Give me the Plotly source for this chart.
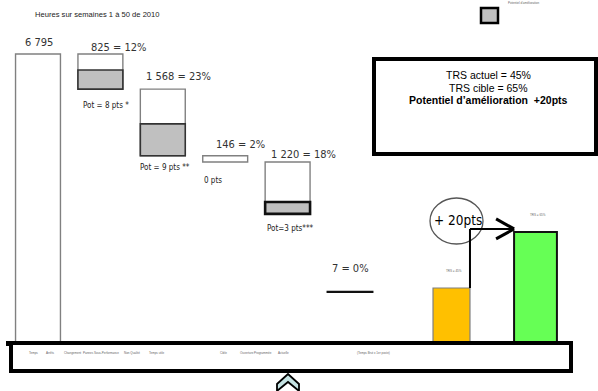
import plotly.graph_objects as go

# ---------------- data ----------------
categories = ["Temps d'ouverture", "Arrêts", "Changements", "Pannes", "Sous-performance", "Non qualité"]
hours = [6795, 825, 1568, 146, 1220, 7]
pct_labels = ["", "12%", "23%", "2%", "18%", "0%"]
pot_hours = [None, 450, 750, None, 280, None]
pot_labels = ["", "Pot = 8 pts *", "Pot = 9 pts **", "0 pts", "Pot=3 pts***", ""]
last_base = 1200  # last step drawn lower in the original (schematic)

trs_cats = ["TRS actuel", "TRS cible"]
trs_values = [45, 65]
trs_small_labels = ["TRS = 45%", "TRS = 65%"]

bottom_labels = ["Temps", "Arrêts", "Changement", "Pannes", "Sous-Performance", "Non Qualité",
                 "Temps utile", "Cible", "Ouverture", "Programmée", "Actuelle", "(Temps Brut x 1er poste)"]

title_text = "Heures sur semaines 1 à 50 de 2010"

# ---------------- helpers ----------------
W, H = 598, 391
def px(x):
    return x / W
def py(y):
    return 1 - y / H

# waterfall bases
bases = [0]
running = hours[0]
for h in hours[1:-1]:
    running -= h
    bases.append(running)
bases.append(last_base)

def fmt(n):
    return f"{n:,}".replace(",", " ")

NARROW = "DejaVu Sans Condensed, Liberation Sans Narrow, Arial Narrow, sans-serif"
ARIAL = "Liberation Sans, Arial, sans-serif"

fig = go.Figure()

# white step bars
line_colors = ["#808080"] * 5 + ["#111111"]
line_widths = [1.4] * 5 + [2]
fig.add_trace(go.Bar(
    x=categories, y=hours, base=bases, width=0.72,
    marker=dict(color="white", line=dict(color=line_colors, width=line_widths)),
    xaxis="x", yaxis="y", hoverinfo="skip", showlegend=False))

# grey potential parts
pot_x = [c for c, p in zip(categories, pot_hours) if p is not None]
pot_y = [p for p in pot_hours if p is not None]
pot_b = [b for b, p in zip(bases, pot_hours) if p is not None]
fig.add_trace(go.Bar(
    x=pot_x, y=pot_y, base=pot_b, width=0.72,
    marker=dict(color="#C0C0C0", line=dict(color=["#333333", "#333333", "#111111"], width=[1.6, 1.6, 2.6])),
    xaxis="x", yaxis="y", hoverinfo="skip", showlegend=False))

# TRS bars
fig.add_trace(go.Bar(
    x=trs_cats, y=trs_values, width=[0.44, 0.51],
    marker=dict(color=["#FFC000", "#66FF55"], line=dict(color=["#7f7f7f", "#111111"], width=[1.2, 2])),
    xaxis="x2", yaxis="y2", hoverinfo="skip", showlegend=False))

annotations = []
# value labels
x_shifts = [1, 18, 16, 15, 16, 0]
y_shifts = [12, 7, 13, 11, 7, 23]
for i, c in enumerate(categories):
    txt = fmt(hours[i]) if i == 0 else f"{fmt(hours[i])} = {pct_labels[i]}"
    annotations.append(dict(x=c, y=bases[i] + hours[i], xref="x", yref="y", text=txt,
                            showarrow=False, xanchor="center", yanchor="middle",
                            xshift=x_shifts[i], yshift=y_shifts[i],
                            font=dict(family=NARROW, size=11, color="#333333")))
# pot labels
pot_xs = [0, 6, 2, -12, 3, 0]
pot_ys = [0, -16, -12, -19, -15, 0]
for i, c in enumerate(categories):
    if pot_labels[i]:
        annotations.append(dict(x=c, y=bases[i], xref="x", yref="y", text=pot_labels[i],
                                showarrow=False, xanchor="center", yanchor="middle",
                                xshift=pot_xs[i], yshift=pot_ys[i],
                                font=dict(family=NARROW, size=8, color="#222222")))
# tiny labels above TRS bars
for c, v, t in zip(trs_cats, trs_values, trs_small_labels):
    annotations.append(dict(x=c, y=v, xref="x2", yref="y2", text=t, showarrow=False,
                            xanchor="center", yanchor="middle", yshift=17, xshift=2,
                            font=dict(family=ARIAL, size=3, color="#666666")))
# title
annotations.append(dict(x=px(33), y=py(15), xref="paper", yref="paper", text=title_text,
                        showarrow=False, xanchor="left", yanchor="middle",
                        font=dict(family=ARIAL, size=7.6, color="#222222")))
# TRS box text
for yy, t in ((75, "TRS actuel = 45%"), (87.5, "TRS cible = 65%"),
              (100, "<b>Potentiel d’amélioration  +20pts</b>")):
    annotations.append(dict(x=px(488), y=py(yy), xref="paper", yref="paper", text=t,
                            showarrow=False, xanchor="center", yanchor="middle",
                            font=dict(family=ARIAL, size=10.5, color="black")))
# +20pts
annotations.append(dict(x=px(458), y=py(220), xref="paper", yref="paper", text="+ 20pts",
                        showarrow=False, xanchor="center", yanchor="middle",
                        font=dict(family=NARROW, size=13.5, color="black")))
# legend tiny text
annotations.append(dict(x=px(506), y=py(3.5), xref="paper", yref="paper", text="Potentiel d'amélioration",
                        showarrow=False, xanchor="left", yanchor="middle",
                        font=dict(family=ARIAL, size=3, color="#666666")))
# bottom tiny labels
bottom_x = [33, 50, 72, 88, 106, 132, 157, 224, 247, 263, 283, 373]
for xx, t in zip(bottom_x, bottom_labels):
    annotations.append(dict(x=px(xx), y=py(353), xref="paper", yref="paper", text=t,
                            showarrow=False, xanchor="center", yanchor="middle",
                            font=dict(family=ARIAL, size=3, color="#666666")))

shapes = []
# bottom box
shapes.append(dict(type="rect", xref="paper", yref="paper", x0=px(11), x1=px(571), y0=py(371), y1=py(343),
                   line=dict(color="black", width=4), fillcolor="white", layer="above"))
# small dot
shapes.append(dict(type="rect", xref="paper", yref="paper", x0=px(6), x1=px(11), y0=py(346), y1=py(341),
                   line=dict(width=0), fillcolor="black", layer="above"))
# TRS box
shapes.append(dict(type="rect", xref="paper", yref="paper", x0=px(374), x1=px(596), y0=py(154), y1=py(59),
                   line=dict(color="black", width=4), fillcolor="rgba(0,0,0,0)", layer="above"))
# legend square
shapes.append(dict(type="rect", xref="paper", yref="paper", x0=px(481), x1=px(498), y0=py(23), y1=py(8),
                   line=dict(color="black", width=2.5), fillcolor="#C0C0C0", layer="above"))
# ellipse
shapes.append(dict(type="circle", xref="paper", yref="paper", x0=px(430), x1=px(483), y0=py(244), y1=py(198),
                   line=dict(color="#555555", width=1.3), layer="above"))
# connector arrow (from top-right of actual TRS bar to target bar)
orange_right = 0 + 0.22
green_left = 1 - 0.255
arrow_y = 66.1
shapes.append(dict(type="line", xref="x2", yref="y2", x0=orange_right, x1=orange_right,
                   y0=trs_values[0], y1=arrow_y, line=dict(color="black", width=2), layer="above"))
shapes.append(dict(type="line", xref="x2", yref="y2", x0=orange_right, x1=green_left,
                   y0=arrow_y, y1=arrow_y, line=dict(color="black", width=2), layer="above"))
for dy in (10, -10):
    shapes.append(dict(type="line", xref="x2", yref="y2", xsizemode="pixel", ysizemode="pixel",
                       xanchor=green_left, yanchor=arrow_y, x0=-18, x1=0, y0=dy, y1=0,
                       line=dict(color="black", width=3), layer="above"))
# chevron
chev = (f"M {px(277)} {py(384)} L {px(288)} {py(374)} L {px(299)} {py(384)} "
        f"L {px(299)} {py(391)} L {px(288)} {py(382)} L {px(277)} {py(391)} Z")
shapes.append(dict(type="path", xref="paper", yref="paper", path=chev,
                   line=dict(color="black", width=1.8), fillcolor="#C5E3E3", layer="above"))

axis_common = dict(showgrid=False, zeroline=False, showticklabels=False, ticks="", showline=False)
fig.update_layout(
    width=W, height=H, margin=dict(l=0, r=0, t=0, b=0),
    paper_bgcolor="white", plot_bgcolor="rgba(0,0,0,0)",
    barmode="overlay", showlegend=False,
    xaxis=dict(domain=[6.8 / W, 381.2 / W], range=[-0.5, 5.5], **axis_common),
    yaxis=dict(domain=[48 / H, 1], range=[0, 8064.7], **axis_common),
    xaxis2=dict(domain=[409.5 / W, 577.5 / W], range=[-0.5, 1.5], anchor="y2", **axis_common),
    yaxis2=dict(domain=[48 / H, 1], range=[25.36, 147.86], anchor="x2", **axis_common),
    annotations=annotations, shapes=shapes,
)

fig.write_html("out.html")
